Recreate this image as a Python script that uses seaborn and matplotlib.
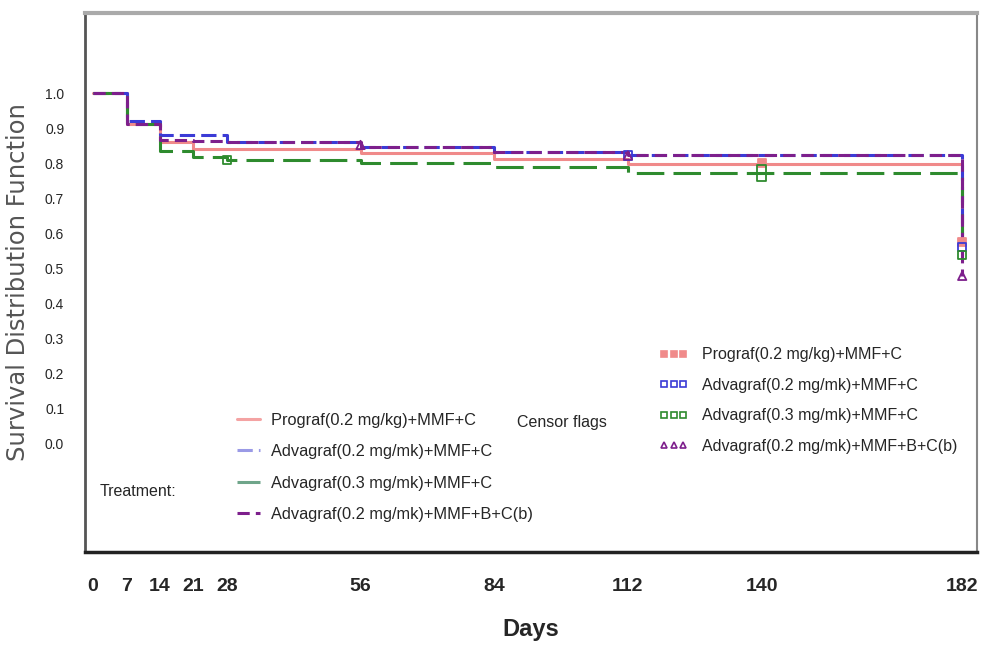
import numpy as np
import pandas as pd
import matplotlib.pyplot as plt
import seaborn as sns
from matplotlib.lines import Line2D

# Kaplan-Meier style survival curves
days = [0, 7, 14, 21, 28, 56, 84, 112, 140, 182]
treatments = ['Prograf(0.2 mg/kg)+MMF+C',
              'Advagraf(0.2 mg/mk)+MMF+C',
              'Advagraf(0.3 mg/mk)+MMF+C',
              'Advagraf(0.2 mg/mk)+MMF+B+C(b)']
surv_prograf = [1.0, 0.913, 0.861, 0.840, 0.840, 0.829, 0.811, 0.797, 0.797, 0.575]
surv_adv02 = [1.0, 0.921, 0.880, 0.880, 0.861, 0.846, 0.832, 0.822, 0.822, 0.560]
surv_adv03 = [1.0, 0.913, 0.834, 0.817, 0.809, 0.800, 0.789, 0.772, 0.772, 0.537]
surv_adv02b = [1.0, 0.913, 0.866, 0.862, 0.861, 0.846, 0.832, 0.822, 0.822, 0.478]

# censored observations (day, survival) per treatment
cens_prograf = ([140, 182], [0.800, 0.575])
cens_adv02 = ([112, 182], [0.822, 0.560])
cens_adv03 = ([28, 140, 140, 182], [0.809, 0.782, 0.760, 0.537])
cens_adv02b = ([56, 112, 182], [0.852, 0.822, 0.478])

xticks = [0, 7, 14, 21, 28, 56, 84, 112, 140, 182]
yticks = [0.0, 0.1, 0.2, 0.3, 0.4, 0.5, 0.6, 0.7, 0.8, 0.9, 1.0]

colors = ['#f08a8a', '#3b3bd6', '#2e8b2e', '#7d1f8c']
dashes = ['', (5, 2), (9, 3), (4, 2)]
markers = ['s', 's', 's', '^']

sns.set_style('white')
plt.rcParams['font.family'] = ['Liberation Sans', 'DejaVu Sans']

all_surv = [surv_prograf, surv_adv02, surv_adv03, surv_adv02b]
df = pd.DataFrame({
    'Days': np.tile(days, 4),
    'Survival': np.concatenate(all_surv),
    'Treatment': np.repeat(treatments, len(days)),
})
all_cens = [cens_prograf, cens_adv02, cens_adv03, cens_adv02b]
cdf = pd.concat([pd.DataFrame({'Days': c[0], 'Survival': c[1], 'Treatment': t})
                 for c, t in zip(all_cens, treatments)])

fig = plt.figure(figsize=(9.85, 6.51), dpi=100)
ax = fig.add_axes([85 / 985, 1 - 552 / 651, (977 - 85) / 985, (552 - 13) / 651])

pal = dict(zip(treatments, colors))
sns.lineplot(data=df, x='Days', y='Survival', hue='Treatment', style='Treatment',
             palette=pal, dashes=dict(zip(treatments, dashes)), estimator=None,
             drawstyle='steps-post', linewidth=2.2, legend=False, ax=ax)
for t, m, c in zip(treatments, markers, colors):
    sub = cdf[cdf['Treatment'] == t]
    fc = c if t == treatments[0] else 'none'
    ax.scatter(sub['Days'], sub['Survival'], marker=m, s=36, facecolors=fc,
               edgecolors=c, linewidths=1.3, zorder=5)

ax.set_xlim(-1.7, 185.1)
ax.set_ylim(-0.311, 1.229)
ax.set_xticks(xticks)
ax.set_xticklabels([str(x) for x in xticks], fontsize=14, fontweight='bold')
ax.set_yticks(yticks)
ax.set_yticklabels([f'{y:.1f}' for y in yticks], fontsize=10)
ax.tick_params(axis='x', length=0, pad=19)
ax.tick_params(axis='y', length=9, width=1.5, color='#555555', pad=6)
ax.set_xlabel('Days', fontsize=17, fontweight='bold', labelpad=16)
ax.set_ylabel('Survival Distribution Function', fontsize=17.5, color='#555555',
              family='DejaVu Sans')
ax.yaxis.set_label_coords(-0.062, 0.50)

ax.spines['top'].set_color('#aaaaaa')
ax.spines['top'].set_linewidth(3)
ax.spines['bottom'].set_color('#222222')
ax.spines['bottom'].set_linewidth(2.5)
ax.spines['left'].set_color('#555555')
ax.spines['left'].set_linewidth(2)
ax.spines['right'].set_color('#888888')
ax.spines['right'].set_linewidth(1.5)

# treatment legend (line styles)
line_handles = [Line2D([], [], color=c, linestyle='-' if d == '' else (0, d), linewidth=2.2)
                for c, d in zip(['#f4a3a3', '#9a9ae6', '#6fa58a', '#7d1f8c'], dashes)]
leg1 = ax.legend(line_handles, treatments, loc='upper left', frameon=False,
                 bbox_to_anchor=(222 / 985, 1 - 398 / 651), bbox_transform=fig.transFigure,
                 fontsize=11.8, handlelength=1.4, handletextpad=0.7, labelspacing=1.0)
ax.add_artist(leg1)

# censor legend (markers)
mark_handles = [Line2D([], [], linestyle='none', marker=m, markersize=4,
                       markerfacecolor=c if i == 0 else 'none', markeredgecolor=c, markeredgewidth=1.2)
                for i, (m, c) in enumerate(zip(markers, colors))]
ax.legend(mark_handles, treatments, loc='upper left', frameon=False, numpoints=3,
          bbox_to_anchor=(645 / 985, 1 - 333 / 651), bbox_transform=fig.transFigure,
          fontsize=11.5, handlelength=1.8, handletextpad=0.9, labelspacing=0.97)

fig.text(100 / 985, 1 - 492 / 651, 'Treatment:', fontsize=11.5, va='center')
fig.text(517 / 985, 1 - 423 / 651, 'Censor flags', fontsize=11.5, va='center')

fig.savefig('out.png', dpi=100)
